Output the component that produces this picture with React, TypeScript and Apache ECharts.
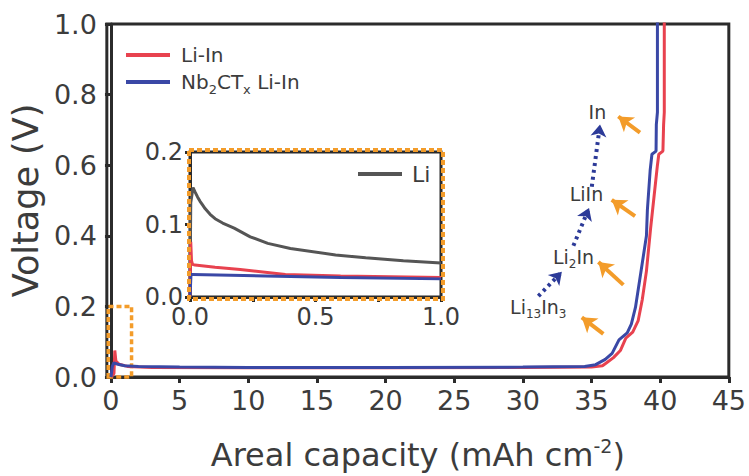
import React, { useEffect, useRef } from "react";
import * as echarts from "echarts";

// ---- Main plot data (Areal capacity in mAh cm^-2, voltage in V) ----
const liInCapacity = [0, 0.22, 0.28, 0.36, 0.6, 1.2, 3, 10, 20, 30, 35.0, 35.8, 36.05, 36.6, 37.1, 37.5, 38.0, 38.4, 38.7, 39.0, 39.3, 39.55, 39.8, 39.9, 40.2, 40.25, 40.3, 40.3];
const liInVoltage = [0, 0.01, 0.075, 0.045, 0.036, 0.03, 0.027, 0.026, 0.026, 0.027, 0.028, 0.032, 0.039, 0.055, 0.075, 0.11, 0.127, 0.16, 0.22, 0.3, 0.42, 0.51, 0.6, 0.631, 0.64, 0.715, 0.75, 1.05];
const nbCapacity = [0, 0.1, 0.2, 0.5, 1, 2, 5, 10, 20, 30, 34.5, 35.3, 36.0, 36.5, 37.0, 37.6, 37.9, 38.2, 38.6, 39.0, 39.07, 39.27, 39.4, 39.7, 39.72, 39.8, 39.8];
const nbVoltage = [0, 0.03, 0.04, 0.036, 0.032, 0.03, 0.028, 0.027, 0.027, 0.028, 0.03, 0.035, 0.05, 0.067, 0.105, 0.125, 0.15, 0.197, 0.298, 0.4, 0.474, 0.585, 0.631, 0.64, 0.715, 0.75, 1.05];

// ---- Inset data ----
const insetLiCapacity = [0, 0.003, 0.012, 0.02, 0.03, 0.04, 0.05, 0.06, 0.08, 0.1, 0.13, 0.176, 0.24, 0.31, 0.4, 0.58, 0.7, 0.85, 1.0];
const insetLiVoltage = [0, 0.13, 0.151, 0.145, 0.138, 0.132, 0.127, 0.122, 0.114, 0.108, 0.102, 0.095, 0.083, 0.074, 0.067, 0.058, 0.054, 0.05, 0.047];
const insetLiInCapacity = [0, 0.003, 0.006, 0.01, 0.02, 0.1, 0.2, 0.38, 0.6, 1.0];
const insetLiInVoltage = [0, 0.076, 0.05, 0.045, 0.044, 0.041, 0.038, 0.031, 0.029, 0.027];
const insetNbCapacity = [0, 0.004, 0.01, 0.3, 0.6, 1.0];
const insetNbVoltage = [0, 0.031, 0.031, 0.029, 0.027, 0.025];

const insetXLabels = [0, 0.5, 1.0];

// ---- Annotations (data coordinates of the main plot) ----
const phaseLabels = ["{a|In}", "{a|LiIn}", "{a|Li}{s|2}{a|In}", "{a|Li}{s|13}{a|In}{s|3}"];
const phaseLabelCoords = [[35.43, 0.752], [34.63, 0.517], [33.69, 0.339], [31.12, 0.197]];
const orangeArrows = [
  [[38.53, 0.692], [36.95, 0.738]],
  [[38.17, 0.456], [36.47, 0.502]],
  [[37.32, 0.261], [35.5, 0.326]],
  [[35.86, 0.122], [34.29, 0.169]],
];
const blueArrows = [
  [[31.13, 0.229], [32.84, 0.298]],
  [[33.68, 0.372], [34.82, 0.479]],
  [[35.02, 0.539], [35.62, 0.715]],
];
const zoomBox = [[-0.2, 0], [1.5, 0.2]];

const RED = "#e8424f";
const BLUE = "#3a48a6";
const GRAY = "#555555";
const ORANGE = "#f39c2a";
const AXIS = "#2b2b2b";
const TEXT = "#3c3c3c";
const FONT = "DejaVu Sans";

const zip = (xs: number[], ys: number[]) => xs.map((x, i) => [x, ys[i]]);

export default function App() {
  const ref = useRef<HTMLDivElement>(null);
  useEffect(() => {
    if (!ref.current) return;
    const chart = echarts.init(ref.current, undefined, { renderer: "svg" });
    const axisLine = { show: true, lineStyle: { color: AXIS, width: 3 } };
    const axisTick = { show: true, inside: false, length: 6, lineStyle: { color: AXIS, width: 3 } };
    const legendRich = {
      a: { fontSize: 20, fontFamily: FONT, color: TEXT, lineHeight: 28, verticalAlign: "middle" },
      s: { fontSize: 13, fontFamily: FONT, color: TEXT, lineHeight: 28, verticalAlign: "bottom" },
    };
    const option: any = {
      animation: false,
      backgroundColor: "#ffffff",
      textStyle: { fontFamily: FONT },
      grid: [
        { left: 106, top: 24, width: 623, height: 360, show: true, borderColor: AXIS, borderWidth: 3, backgroundColor: "transparent" },
        { left: 190, top: 152, width: 251, height: 145, show: true, borderColor: AXIS, borderWidth: 3, backgroundColor: "#ffffff", z: 5 },
      ],
      legend: [
        {
          data: ["Li-In", "Nb2CTx Li-In"],
          orient: "vertical",
          left: 126,
          top: 45,
          padding: 0,
          itemGap: 7,
          itemWidth: 44,
          itemHeight: 4,
          icon: "rect",
          selectedMode: false,
          formatter: (n: string) => (n === "Li-In" ? "{a|Li-In}" : "{a|Nb}{s|2}{a|CT}{s|x}{a| Li-In}"),
          textStyle: { fontSize: 20, color: TEXT, fontFamily: FONT, padding: [0, 0, 0, 6], rich: legendRich },
        },
        {
          data: ["Li"],
          orient: "vertical",
          left: 358,
          top: 160,
          padding: 0,
          itemWidth: 44,
          itemHeight: 4,
          icon: "rect",
          selectedMode: false,
          z: 10,
          textStyle: { fontSize: 22, color: TEXT, fontFamily: FONT, padding: [0, 0, 0, 5], lineHeight: 28 },
        },
      ],
      xAxis: [
        {
          type: "value",
          gridIndex: 0,
          min: -0.3,
          max: 45,
          splitNumber: 9,
          axisLine,
          axisTick,
          splitLine: { show: false },
          axisLabel: { fontSize: 27, color: TEXT, fontFamily: FONT, margin: 10, showMinLabel: false },
          name: "{a|Areal capacity (mAh cm}{s|-2}{a|)}",
          nameLocation: "middle",
          nameGap: 59,
          nameTextStyle: {
            rich: {
              a: { fontSize: 32, fontFamily: FONT, color: TEXT, lineHeight: 38, verticalAlign: "middle" },
              s: { fontSize: 19, fontFamily: FONT, color: TEXT, lineHeight: 38, verticalAlign: "top" },
            },
          },
        },
        {
          type: "value",
          gridIndex: 1,
          min: 0,
          max: 1,
          interval: 0.25,
          axisLine,
          axisTick: { ...axisTick, length: 5 },
          splitLine: { show: false },
          axisLabel: {
            fontSize: 24,
            color: TEXT,
            fontFamily: FONT,
            margin: 8,
            formatter: (v: number) => (insetXLabels.some((t) => Math.abs(t - v) < 1e-9) ? v.toFixed(1) : ""),
          },
          z: 6,
        },
      ],
      yAxis: [
        {
          type: "value",
          gridIndex: 0,
          min: 0,
          max: 1,
          interval: 0.2,
          axisLine,
          axisTick,
          splitLine: { show: false },
          axisLabel: { fontSize: 27, color: TEXT, fontFamily: FONT, margin: 10, formatter: (v: number) => v.toFixed(1) },
          name: "Voltage (V)",
          nameLocation: "middle",
          nameGap: 62,
          nameTextStyle: { fontSize: 35, color: TEXT, fontFamily: FONT },
        },
        {
          type: "value",
          gridIndex: 1,
          min: 0,
          max: 0.2,
          interval: 0.1,
          axisLine,
          axisTick: { ...axisTick, length: 5 },
          splitLine: { show: false },
          axisLabel: { fontSize: 24, color: TEXT, fontFamily: FONT, margin: 7, formatter: (v: number) => v.toFixed(1) },
          z: 6,
        },
      ],
      series: [
        {
          name: "Li-In",
          type: "line",
          xAxisIndex: 0,
          yAxisIndex: 0,
          showSymbol: false,
          color: RED,
          lineStyle: { width: 3, color: RED },
          data: zip(liInCapacity, liInVoltage),
          z: 3,
          markArea: {
            silent: true,
            itemStyle: { color: "rgba(0,0,0,0)", borderColor: ORANGE, borderWidth: 3.5, borderType: [5, 3] },
            data: [[{ coord: zoomBox[0] }, { coord: zoomBox[1] }]],
          },
          markLine: {
            silent: true,
            symbol: ["none", "arrow"],
            symbolSize: 14,
            label: { show: false },
            emphasis: { disabled: true },
            lineStyle: { color: ORANGE, width: 4, type: "solid" },
            data: orangeArrows.map((a) => [{ coord: a[0] }, { coord: a[1] }]),
          },
          markPoint: {
            silent: true,
            symbol: "circle",
            symbolSize: 1,
            itemStyle: { color: "rgba(0,0,0,0)" },
            label: {
              show: true,
              position: "inside",
              formatter: (p: any) => p.name,
              rich: {
                a: { fontSize: 19, fontFamily: FONT, color: TEXT, lineHeight: 26, verticalAlign: "middle" },
                s: { fontSize: 12, fontFamily: FONT, color: TEXT, lineHeight: 26, verticalAlign: "bottom" },
              },
            },
            data: phaseLabels.map((t, i) => ({ name: t, coord: phaseLabelCoords[i], value: 0 })),
          },
        },
        {
          name: "Nb2CTx Li-In",
          type: "line",
          xAxisIndex: 0,
          yAxisIndex: 0,
          showSymbol: false,
          color: BLUE,
          lineStyle: { width: 3, color: BLUE },
          data: zip(nbCapacity, nbVoltage),
          z: 4,
          markLine: {
            silent: true,
            symbol: ["none", "arrow"],
            symbolSize: 12,
            label: { show: false },
            emphasis: { disabled: true },
            lineStyle: { color: "#2c3a98", width: 4, type: [3, 4] },
            data: blueArrows.map((a) => [{ coord: a[0] }, { coord: a[1] }]),
          },
        },
        {
          name: "Li",
          type: "line",
          xAxisIndex: 1,
          yAxisIndex: 1,
          showSymbol: false,
          color: GRAY,
          lineStyle: { width: 3, color: GRAY },
          data: zip(insetLiCapacity, insetLiVoltage),
          z: 7,
        },
        {
          name: "Li-In inset",
          type: "line",
          xAxisIndex: 1,
          yAxisIndex: 1,
          showSymbol: false,
          color: RED,
          lineStyle: { width: 3, color: RED },
          data: zip(insetLiInCapacity, insetLiInVoltage),
          z: 7,
        },
        {
          name: "Nb2CTx Li-In inset",
          type: "line",
          xAxisIndex: 1,
          yAxisIndex: 1,
          showSymbol: false,
          color: BLUE,
          lineStyle: { width: 3, color: BLUE },
          data: zip(insetNbCapacity, insetNbVoltage),
          z: 7,
        },
      ],
      graphic: [
        {
          type: "rect",
          z: 100,
          silent: true,
          shape: { x: 189, y: 150, width: 254, height: 149 },
          style: { fill: "none", stroke: ORANGE, lineWidth: 4, lineDash: [5, 3] },
        },
      ],
    };
    chart.setOption(option);
    return () => chart.dispose();
  }, []);
  return <div ref={ref} style={{ position: "fixed", left: 0, top: 0, width: 749, height: 476 }} />;
}
